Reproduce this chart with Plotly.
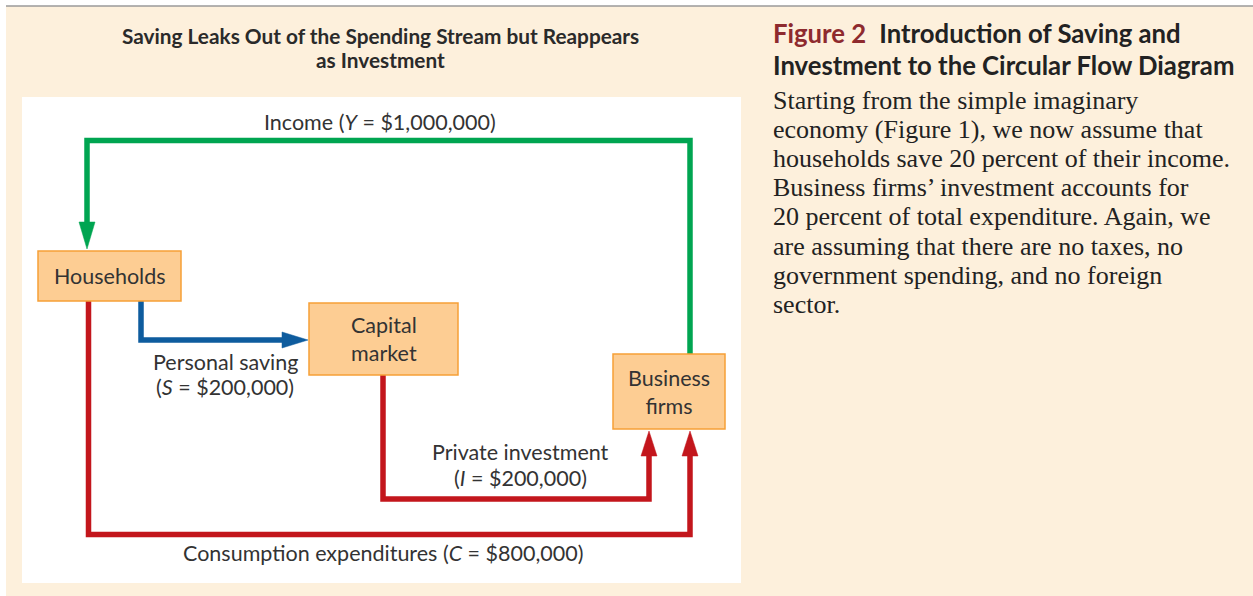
import plotly.graph_objects as go

# ---------------- data ----------------
chart_title = ["Saving Leaks Out of the Spending Stream but Reappears", "as Investment"]
node_names = ["Households", "Capital<br>market", "Business<br>firms"]
flow_names = ["Income", "Personal saving", "Private investment", "Consumption expenditures"]
flow_symbols = ["Y", "S", "I", "C"]
flow_values = [1000000, 200000, 200000, 800000]
figure_label = "Figure 2"
figure_heading = ["Introduction of Saving and", "Investment to the Circular Flow Diagram"]
caption_lines = [
    "Starting from the simple imaginary",
    "economy (Figure 1), we now assume that",
    "households save 20 percent of their income.",
    "Business firms\u2019 investment accounts for",
    "20 percent of total expenditure. Again, we",
    "are assuming that there are no taxes, no",
    "government spending, and no foreign",
    "sector.",
]

# ---------------- styles / positions ----------------
W, H = 1253, 596
CREAM = "#FDF0DC"
BOX_FILL = "#FDCD93"
BOX_LINE = "#F6A037"
GREEN = "#00A551"
BLUE = "#0E5C9E"
RED = "#C3161C"
TXT = "#333333"
SANS = "Lato"
SERIF = "Liberation Serif"
LBL = 21.5

boxes = [  # x0, y0, x1, y1
    (38, 251, 181, 301),
    (309, 303, 458, 375),
    (613, 354, 725, 429),
]

fig = go.Figure()
shapes = []
ann = []

# background
shapes.append(dict(type="rect", x0=-5, y0=-5, x1=W + 5, y1=6, fillcolor="white", line_width=0, layer="below"))
shapes.append(dict(type="rect", x0=-5, y0=-5, x1=6, y1=H + 5, fillcolor="white", line_width=0, layer="below"))
shapes.append(dict(type="line", x0=6, y0=6, x1=W + 5, y1=6, line=dict(color="#9a9a9a", width=1.5)))
shapes.append(dict(type="rect", x0=22, y0=97, x1=741, y1=583, fillcolor="white", line_width=0, layer="below"))

def poly(points, color, width=5.5):
    d = "M " + " L ".join(f"{x},{y}" for x, y in points)
    shapes.append(dict(type="path", path=d, line=dict(color=color, width=width), fillcolor="rgba(0,0,0,0)"))

def tri(points, color):
    d = "M " + " L ".join(f"{x},{y}" for x, y in points) + " Z"
    shapes.append(dict(type="path", path=d, fillcolor=color, line=dict(color=color, width=0.5)))

# Income flow (green)
poly([(690, 354), (690, 140.5), (87, 140.5), (87, 228)], GREEN)
tri([(79, 222), (95, 222), (87, 249)], GREEN)
# Saving flow (blue)
poly([(141, 301), (141, 340), (286, 340)], BLUE)
tri([(282, 332), (282, 348), (308, 340)], BLUE)
# Investment flow (red)
poly([(383, 375), (383, 499), (649, 499), (649, 450)], RED)
tri([(641, 456), (657, 456), (649, 431)], RED)
# Consumption flow (red)
poly([(88.5, 301), (88.5, 534.5), (690, 534.5), (690, 450)], RED)
tri([(682, 456), (698, 456), (690, 431)], RED)

# boxes
for (x0, y0, x1, y1), name in zip(boxes, node_names):
    shapes.append(dict(type="rect", x0=x0, y0=y0, x1=x1, y1=y1, fillcolor=BOX_FILL,
                       line=dict(color=BOX_LINE, width=1.5)))
    ann.append(dict(x=(x0 + x1) / 2, y=(y0 + y1) / 2, text=name, showarrow=False,
                    font=dict(family=SANS, size=LBL, color=TXT), xanchor="center", yanchor="middle"))

def fmt(i):
    return f"(<i>{flow_symbols[i]}</i> = ${flow_values[i]:,})"

def label(x, y, text, size=LBL):
    ann.append(dict(x=x, y=y, text=text, showarrow=False, xanchor="center", yanchor="middle",
                    font=dict(family=SANS, size=size, color=TXT)))

label(380, 122, f"{flow_names[0]} {fmt(0)}")
label(225, 362, flow_names[1])
label(225, 387, fmt(1))
label(520, 452, flow_names[2])
label(520, 478, fmt(2))
label(383, 553, f"{flow_names[3]} {fmt(3)}")

# chart title
for i, t in enumerate(chart_title):
    ann.append(dict(x=380, y=35 + 24 * i, text=f"<b>{t}</b>", showarrow=False, xanchor="center",
                    yanchor="middle", font=dict(family=SANS, size=20.8, color="#2a2a2a")))

# right-side caption
ann.append(dict(x=771, y=33, xanchor="left", yanchor="middle", showarrow=False,
                text=f"<span style='color:#8E2A2E'><b>{figure_label}</b></span>  <b>{figure_heading[0]}</b>",
                font=dict(family=SANS, size=25.7, color="#222222")))
ann.append(dict(x=771, y=65, xanchor="left", yanchor="middle", showarrow=False,
                text=f"<b>{figure_heading[1]}</b>", font=dict(family=SANS, size=25.7, color="#222222")))
for i, line in enumerate(caption_lines):
    ann.append(dict(x=771, y=100 + 29.2 * i, xanchor="left", yanchor="middle", showarrow=False,
                    text=line, font=dict(family=SERIF, size=26, color="#222222")))

fig.update_layout(
    width=W, height=H, margin=dict(l=0, r=0, t=0, b=0),
    paper_bgcolor=CREAM, plot_bgcolor=CREAM,
    xaxis=dict(range=[0, W], visible=False, fixedrange=True),
    yaxis=dict(range=[H, 0], visible=False, fixedrange=True),
    shapes=shapes, annotations=ann, showlegend=False,
)
fig.write_html("out.html", config={"displayModeBar": False},
               post_script="document.body.style.margin='0';document.body.style.overflow='hidden';")
